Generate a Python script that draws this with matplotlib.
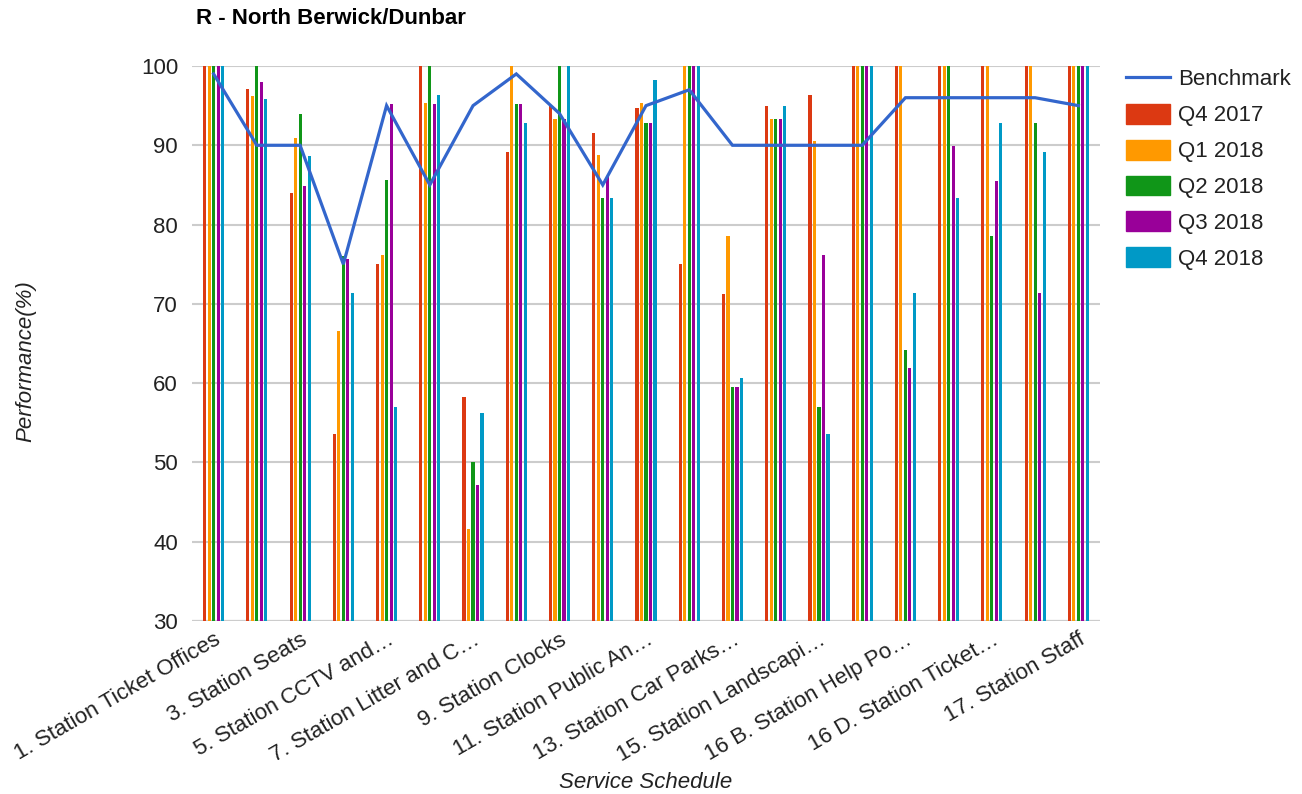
import numpy as np
import matplotlib.pyplot as plt
from matplotlib.lines import Line2D
from matplotlib.patches import Patch

plt.rcParams['font.family'] = ['Liberation Sans', 'DejaVu Sans']

# ---- data ----
labels = [
    "1. Station Ticket Offices", "2.", "3. Station Seats", "4.",
    "5. Station CCTV and…", "6.", "7. Station Litter and C…", "8.",
    "9. Station Clocks", "10.", "11. Station Public An…", "12.",
    "13. Station Car Parks…", "14.", "15. Station Landscapi…", "16 A.",
    "16 B. Station Help Po…", "16 C.", "16 D. Station Ticket…", "16 E.",
    "17. Station Staff",
]
benchmark = [99, 90, 90, 75, 95, 85, 95, 99, 94, 85, 95, 97, 90, 90, 90, 90,
             96, 96, 96, 96, 95]
q4_2017 = [100, 97.1, 84.0, 53.6, 75.0, 100, 58.3, 89.1, 95.0, 91.6, 94.7,
           75.0, 71.2, 95.0, 96.4, 100, 100, 100, 100, 100, 100]
q1_2018 = [100, 96.2, 90.9, 66.6, 76.2, 95.3, 41.6, 100, 93.3, 88.8, 95.3,
           100, 78.6, 93.3, 90.5, 100, 100, 100, 100, 100, 100]
q2_2018 = [100, 100, 93.9, 76.0, 85.6, 100, 50.0, 95.2, 100, 83.3, 92.8,
           100, 59.5, 93.3, 57.0, 100, 64.2, 100, 78.6, 92.8, 100]
q3_2018 = [100, 98.0, 84.9, 75.6, 95.2, 95.2, 47.1, 95.2, 93.3, 86.1, 92.8,
           100, 59.5, 93.3, 76.2, 100, 61.9, 89.9, 85.5, 71.4, 100]
q4_2018 = [100, 95.8, 88.6, 71.4, 57.0, 96.4, 56.2, 92.8, 100, 83.3, 98.2,
           100, 60.6, 95.0, 53.6, 100, 71.4, 83.3, 92.8, 89.1, 100]

series = [("Q4 2017", q4_2017, "#DC3912"),
          ("Q1 2018", q1_2018, "#FF9900"),
          ("Q2 2018", q2_2018, "#109618"),
          ("Q3 2018", q3_2018, "#990099"),
          ("Q4 2018", q4_2018, "#0099C6")]

fig = plt.figure(figsize=(13.02, 7.94), dpi=100)
ax = fig.add_axes([192 / 1302, 1 - 621 / 794, 908 / 1302, 555 / 794])

x = np.arange(len(labels))
step = 0.104
w = 0.072
for i, (name, vals, col) in enumerate(series):
    ax.bar(x + (i - 2) * step, np.array(vals) - 30, width=w, bottom=30,
           color=col, zorder=2, linewidth=0)

ax.plot(x, benchmark, color="#3366CC", lw=2.3, zorder=3,
        solid_joinstyle='miter')

ax.set_xlim(-0.5, len(labels) - 0.5)
ax.set_ylim(30, 100)
ax.set_yticks(range(30, 101, 10))
ax.yaxis.grid(True, color="#cccccc", lw=1.5, zorder=0)
ax.axhline(30, color="#999999", lw=1.5, zorder=1)
for s in ax.spines.values():
    s.set_visible(False)
ax.tick_params(axis='both', length=0, labelsize=16, colors="#222222")
ax.tick_params(axis='y', pad=10)

ax.set_xticks(x[::2])
ax.set_xticklabels(labels[::2], rotation=30, ha='right',
                   rotation_mode='anchor')
ax.tick_params(axis='x', pad=6)

ax.set_ylabel("Performance(%)", fontsize=16, style='italic',
              color="#222222")
ax.yaxis.set_label_coords(-0.172, 0.468)
ax.set_xlabel("Service Schedule", fontsize=16, style='italic',
              color="#222222", labelpad=4)

fig.text(196 / 1302, 1 - 18 / 794, "R - North Berwick/Dunbar",
         fontsize=16, fontweight='bold', va='center', ha='left',
         color="#000000")

handles = [Line2D([], [], color="#3366CC", lw=2.3)]
handles += [Patch(color=c) for _, _, c in series]
names = ["Benchmark"] + [n for n, _, _ in series]
fig.legend(handles, names, loc='upper left',
           bbox_to_anchor=(1117 / 1302, 1 - 59 / 794), frameon=False,
           fontsize=16, handlelength=2.0, handleheight=1.0,
           labelspacing=0.6, handletextpad=0.35, borderaxespad=0,
           labelcolor="#222222")

fig.savefig("out.png", dpi=100)
